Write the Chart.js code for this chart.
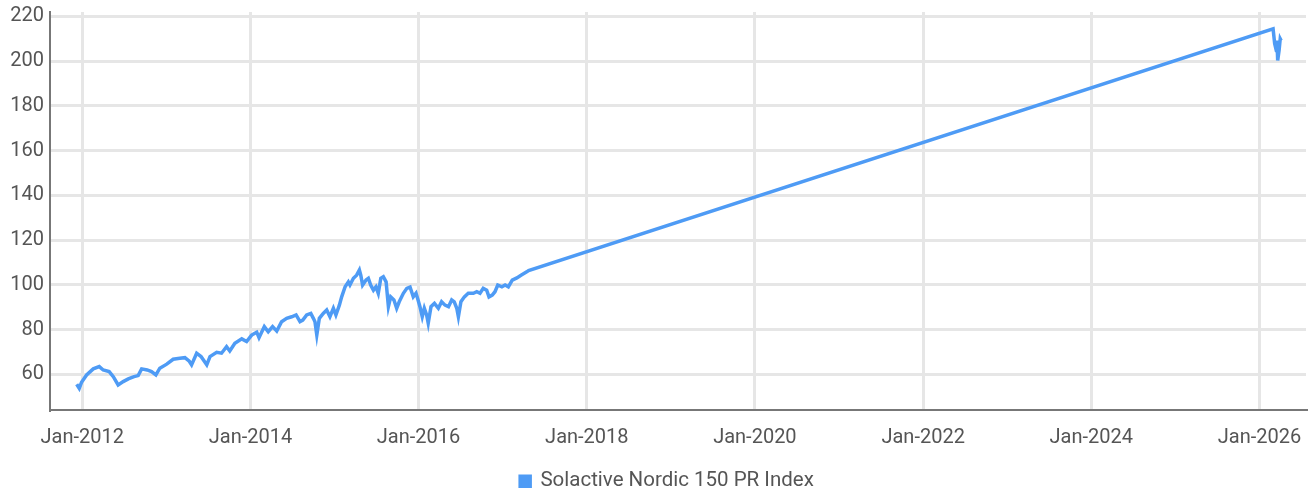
<!DOCTYPE html>
<html>
<head>
<meta charset="utf-8">
<title>Solactive Nordic 150 PR Index</title>
<script src="https://cdn.jsdelivr.net/npm/chart.js@4.4.1/dist/chart.umd.min.js"></script>
<style>
  html, body { margin: 0; padding: 0; background: #fff; }
  #wrap { width: 1314px; height: 492px; }
</style>
</head>
<body>
<div id="wrap"><canvas id="myChart" width="1314" height="492"></canvas></div>
<script>
'use strict';

const seriesName = 'Solactive Nordic 150 PR Index';

// index level
const dates = [
  '2011-12-08', '2011-12-19', '2011-12-29', '2012-01-20', '2012-02-18', '2012-03-15',
  '2012-04-01', '2012-04-27', '2012-05-15', '2012-06-05', '2012-06-27', '2012-07-19',
  '2012-08-13', '2012-08-31', '2012-09-15', '2012-10-09', '2012-10-28', '2012-11-16',
  '2012-12-03', '2013-01-02', '2013-01-30', '2013-02-28', '2013-03-22', '2013-04-10',
  '2013-04-20', '2013-05-12', '2013-05-31', '2013-06-25', '2013-07-09', '2013-08-07',
  '2013-08-28', '2013-09-19', '2013-10-03', '2013-10-25', '2013-11-24', '2013-12-15',
  '2014-01-06', '2014-01-28', '2014-02-07', '2014-03-02', '2014-03-19', '2014-04-07',
  '2014-04-25', '2014-05-16', '2014-06-07', '2014-06-29', '2014-07-18', '2014-08-04',
  '2014-08-16', '2014-09-02', '2014-09-20', '2014-10-01', '2014-10-08', '2014-10-16',
  '2014-10-27', '2014-11-13', '2014-11-28', '2014-12-12', '2014-12-27', '2015-01-07',
  '2015-01-22', '2015-02-01', '2015-02-16', '2015-03-02', '2015-03-09', '2015-03-24',
  '2015-04-07', '2015-04-19', '2015-04-25', '2015-05-03', '2015-05-18', '2015-05-28',
  '2015-06-07', '2015-06-19', '2015-06-30', '2015-07-10', '2015-07-21', '2015-08-01',
  '2015-08-13', '2015-08-23', '2015-09-02', '2015-09-16', '2015-09-28', '2015-10-09',
  '2015-10-27', '2015-11-11', '2015-11-25', '2015-12-09', '2015-12-21', '2015-12-28',
  '2016-01-07', '2016-01-17', '2016-01-26', '2016-02-05', '2016-02-12', '2016-02-24',
  '2016-03-10', '2016-03-27', '2016-04-10', '2016-04-25', '2016-05-10', '2016-05-24',
  '2016-06-04', '2016-06-15', '2016-06-22', '2016-07-03', '2016-07-18', '2016-08-04',
  '2016-08-26', '2016-09-10', '2016-09-24', '2016-10-08', '2016-10-23', '2016-11-02',
  '2016-11-16', '2016-11-28', '2016-12-10', '2016-12-28', '2017-01-11', '2017-01-25',
  '2017-02-11', '2017-03-03', '2017-03-21', '2017-04-15', '2017-04-23',
  '2026-03-01', '2026-03-08', '2026-03-15', '2026-03-18', '2026-03-21', '2026-03-27',
  '2026-04-01', '2026-04-05'
];

const levels = [
  55.5, 53.7, 56.4, 59.7, 62.4, 63.4,
  61.9, 61.2, 58.9, 55.2, 56.7, 57.9,
  58.9, 59.4, 62.4, 61.9, 61.2, 59.7,
  62.7, 64.5, 66.7, 67.1, 67.4, 65.8,
  64.2, 69.4, 67.9, 64.2, 67.9, 69.8,
  69.4, 72.3, 70.4, 73.8, 75.8, 74.6,
  77.5, 78.8, 76.3, 81.3, 79.0, 81.3,
  79.3, 83.5, 85.0, 85.7, 86.5, 83.5,
  84.2, 86.5, 87.2, 85.0, 83.5, 77.5,
  85.0, 87.2, 88.7, 85.7, 89.5, 86.5,
  90.9, 94.6, 99.1, 101.3, 99.9, 102.9,
  104.3, 106.6, 104.3, 99.9, 102.1, 102.9,
  99.9, 97.6, 99.1, 96.2, 102.9, 103.6,
  101.3, 90.2, 94.6, 93.2, 89.5, 92.4,
  96.2, 98.4, 99.0, 94.6, 96.2, 93.9,
  90.2, 85.7, 89.5, 86.5, 82.8, 90.2,
  91.7, 89.5, 92.4, 90.9, 90.2, 93.2,
  92.4, 89.5, 85.7, 92.4, 94.6, 96.2,
  96.2, 96.9, 96.2, 98.4, 97.6, 94.6,
  95.4, 96.9, 99.9, 99.1, 99.9, 99.1,
  102.1, 103.1, 104.3, 105.8, 106.4,
  214.5, 207.8, 204.8, 209.2, 200.3, 204.8,
  210.0, 209.2
];

const tickYears = [2012, 2014, 2016, 2018, 2020, 2022, 2024, 2026];
const tickLabels = ['Jan-2012', 'Jan-2014', 'Jan-2016', 'Jan-2018', 'Jan-2020', 'Jan-2022', 'Jan-2024', 'Jan-2026'];
const yTicks = [60, 80, 100, 120, 140, 160, 180, 200, 220];

const lineColor = '#4e9bf5';
const textColor = '#555555';
const gridColor = '#e6e6e6';
const fontFamily = 'Roboto, "Liberation Sans", sans-serif';

let points = [];
for (let i = 0; i < dates.length; i++) {
  points.push({ x: Date.parse(dates[i]), y: levels[i] });
}

const tickTimes = tickYears.map(y => Date.UTC(y, 0, 1));

// nudge the legend: centre it under the plot and sit it near the bottom edge
const moveLegend = {
  id: 'moveLegend',
  afterLayout(chart) {
    const lg = chart.legend;
    if (!lg) return;
    lg.left += 28;
    lg.top += 9.5;
    lg.bottom += 9.5;
  }
};

let ctx = document.getElementById('myChart').getContext('2d');

new Chart(ctx, {
  type: 'line',
  data: {
    datasets: [{
      label: seriesName,
      data: points,
      borderColor: lineColor,
      backgroundColor: lineColor,
      borderWidth: 3.5,
      pointRadius: 0,
      tension: 0
    }]
  },
  options: {
    responsive: false,
    animation: false,
    layout: { padding: { left: 0, right: 8, top: 12, bottom: 0 } },
    plugins: {
      legend: {
        position: 'bottom',
        labels: {
          boxWidth: 10,
          boxHeight: 10,
          padding: 2,
          color: textColor,
          font: { family: fontFamily, size: 20.5 }
        }
      },
      tooltip: { enabled: false }
    },
    scales: {
      x: {
        type: 'linear',
        min: Date.UTC(2011, 7, 14),
        max: Date.UTC(2026, 6, 22),
        afterBuildTicks: scale => { scale.ticks = tickTimes.map(v => ({ value: v })); },
        afterFit: scale => { scale.height = 49.5; scale.paddingLeft = 0; scale.paddingRight = 0; },
        ticks: {
          autoSkip: false,
          maxRotation: 0,
          padding: 16,
          color: textColor,
          font: { family: fontFamily, size: 20 },
          callback: value => tickLabels[tickTimes.indexOf(value)]
        },
        grid: { color: gridColor, lineWidth: 3, drawTicks: false },
        border: { color: '#777777', width: 2 }
      },
      y: {
        min: 44,
        max: 222,
        afterBuildTicks: scale => { scale.ticks = yTicks.map(v => ({ value: v })); },
        afterFit: scale => { scale.width = 50; scale.paddingTop = 0; scale.paddingBottom = 0; },
        ticks: {
          padding: 6,
          color: textColor,
          font: { family: fontFamily, size: 20 }
        },
        grid: { color: gridColor, lineWidth: 3, drawTicks: false },
        border: { color: '#777777', width: 2 }
      }
    }
  },
  plugins: [moveLegend]
});
</script>
</body>
</html>
